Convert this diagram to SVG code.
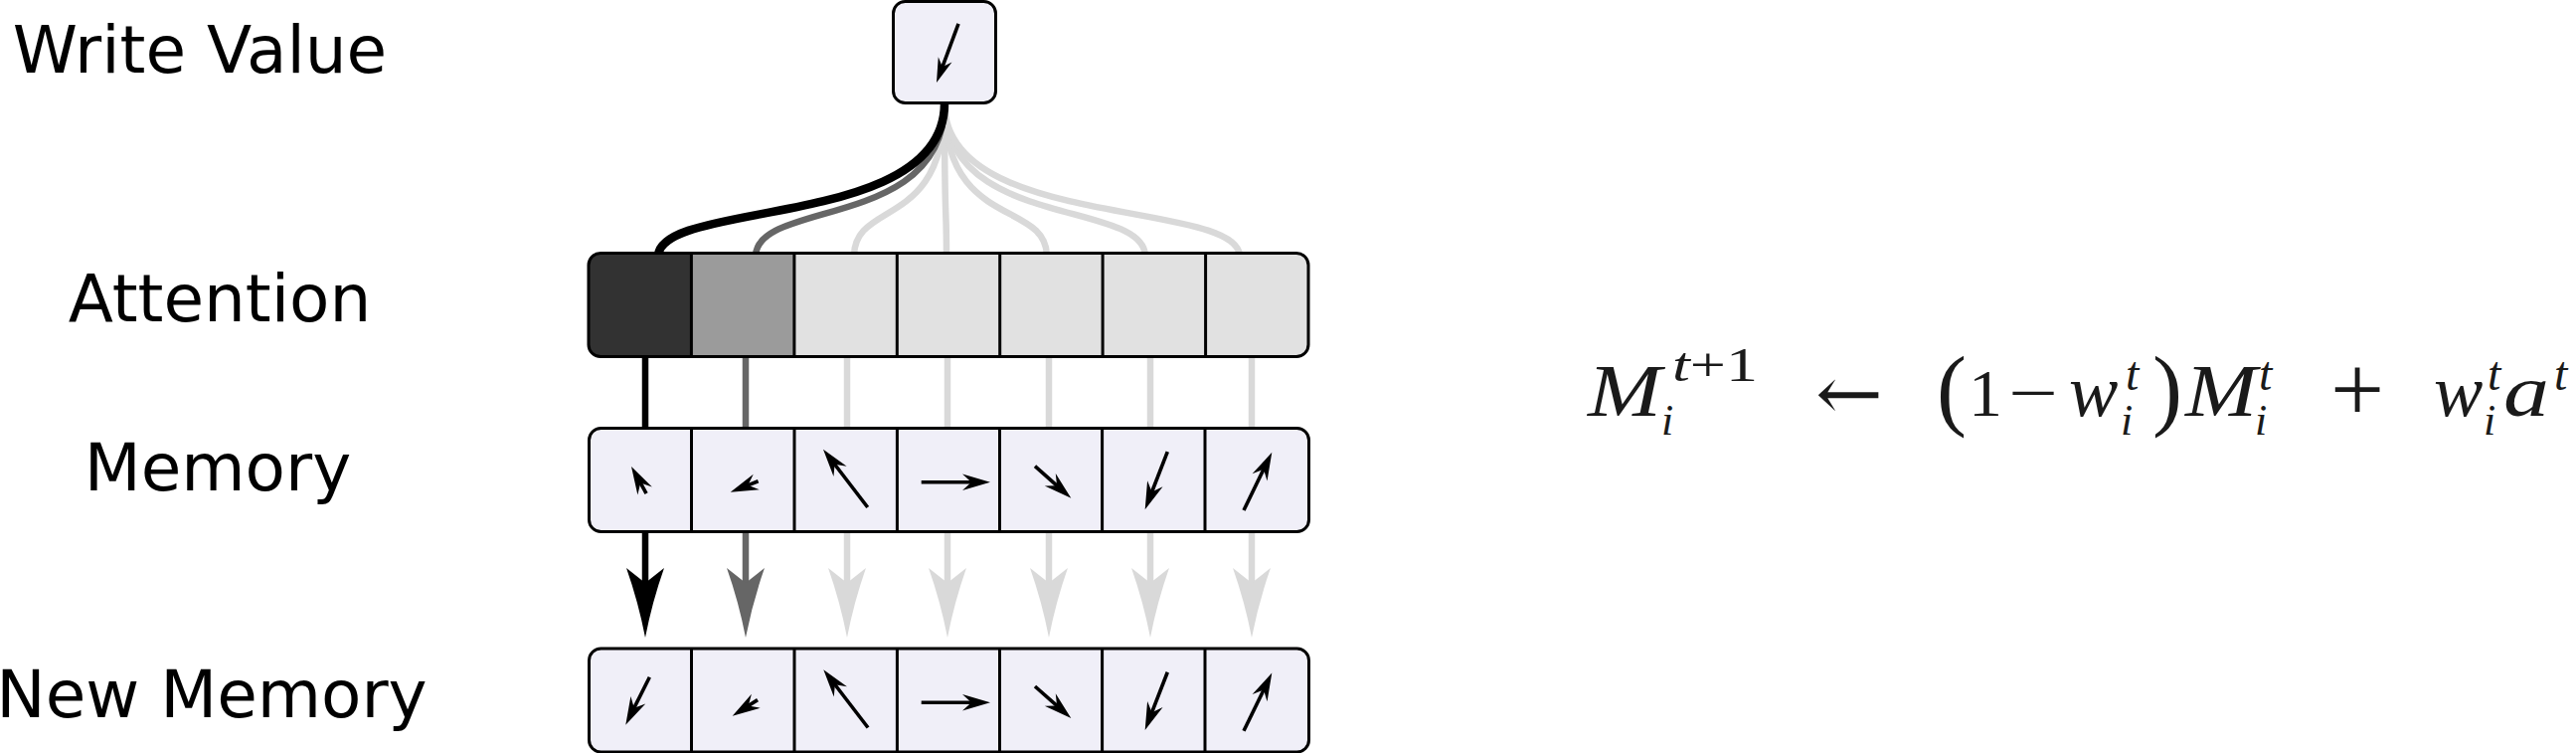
<svg xmlns="http://www.w3.org/2000/svg" xmlns:xlink="http://www.w3.org/1999/xlink" width="2591" height="757" viewBox="0 0 2591 757">
<style>
.lbl{font-family:"DejaVu Sans",sans-serif;font-size:66px;fill:#000;text-anchor:middle}
.box{stroke:#000;stroke-width:3}
.dv{stroke:#000;stroke-width:3}
.sh{stroke:#000;stroke-width:3.6;fill:none}
.cv{fill:none;stroke-width:6.5}
.k{stroke:#000}.g{stroke:#666}.l{stroke:#d9d9d9}
.kf{fill:#000}.gf{fill:#666}.lf{fill:#d9d9d9}
.eq{font-family:"Liberation Serif","DejaVu Serif",serif;fill:#1a1a1a}
.op{font-family:"DejaVu Serif","Liberation Serif",serif;fill:#1a1a1a}
.it{font-style:italic}
.mem{fill:#f0eff8}
</style>
<defs>
<clipPath id="attclip"><rect x="592" y="254.5" width="724" height="104" rx="12"/></clipPath>
<path id="hd" d="M0,0 L-28,-8.3 L-19,0 L-28,8.3 Z"/>
<path id="bh" d="M0,0 Q-7,-36 -19,-70 L0,-55 L19,-70 Q7,-36 0,0 Z"/>
</defs>

<g id="labels">
<text class="lbl" x="201" y="73">Write Value</text>
<text class="lbl" x="221" y="323">Attention</text>
<text class="lbl" x="219" y="493">Memory</text>
<text class="lbl" x="213" y="721">New Memory</text>
</g>

<g id="connectors">
<path class="cv l" d="M950,104 C950,232 859,200 859,258"/>
<path class="cv l" d="M950,104 C950,232 952,200 952,258"/>
<path class="cv l" d="M950,104 C950,232 1053,200 1053,258"/>
<path class="cv l" d="M950,104 C950,232 1152,200 1152,258"/>
<path class="cv l" d="M950,104 C950,232 1247,200 1247,258"/>
<path class="cv g" d="M950,104 C950,232 760,200 760,258"/>
<path class="cv k" style="stroke-width:8.5" d="M950,104 C950,232 662,200 662,258"/>
<g stroke-width="6.5">
<line class="k" x1="649" y1="356" x2="649" y2="590"/>
<line class="g" x1="750" y1="356" x2="750" y2="590"/>
<line class="l" x1="852" y1="356" x2="852" y2="590"/>
<line class="l" x1="953" y1="356" x2="953" y2="590"/>
<line class="l" x1="1055" y1="356" x2="1055" y2="590"/>
<line class="l" x1="1157" y1="356" x2="1157" y2="590"/>
<line class="l" x1="1259" y1="356" x2="1259" y2="590"/>
</g>
<use href="#bh" class="kf" transform="translate(649,641)"/>
<use href="#bh" class="gf" transform="translate(750,641)"/>
<use href="#bh" class="lf" transform="translate(852,641)"/>
<use href="#bh" class="lf" transform="translate(953,641)"/>
<use href="#bh" class="lf" transform="translate(1055,641)"/>
<use href="#bh" class="lf" transform="translate(1157,641)"/>
<use href="#bh" class="lf" transform="translate(1259,641)"/>
</g>

<g id="write-value">
<rect class="box mem" x="898.5" y="1.5" width="103" height="102" rx="12"/>
<g transform="translate(942,83) rotate(110.45)"><line class="sh" x1="-63" y1="0" x2="-16" y2="0"/><use href="#hd" transform="scale(0.88)"/></g>
</g>

<g id="attention">
<g clip-path="url(#attclip)">
<rect x="592" y="254.5" width="724" height="104" fill="#e1e1e1"/>
<rect x="592" y="254.5" width="103.4" height="104" fill="#323232"/>
<rect x="695.4" y="254.5" width="103.4" height="104" fill="#9b9b9b"/>
</g>
<g class="dv">
<line x1="695.4" y1="254.5" x2="695.4" y2="358.5"/>
<line x1="798.9" y1="254.5" x2="798.9" y2="358.5"/>
<line x1="902.3" y1="254.5" x2="902.3" y2="358.5"/>
<line x1="1005.7" y1="254.5" x2="1005.7" y2="358.5"/>
<line x1="1109.1" y1="254.5" x2="1109.1" y2="358.5"/>
<line x1="1212.6" y1="254.5" x2="1212.6" y2="358.5"/>
</g>
<rect class="box" fill="none" x="592" y="254.5" width="724" height="104" rx="12"/>
</g>

<g id="memory">
<rect class="box mem" x="592.5" y="430.5" width="724" height="104" rx="12"/>
<g class="dv">
<line x1="695.5" y1="430.5" x2="695.5" y2="534.5"/>
<line x1="799" y1="430.5" x2="799" y2="534.5"/>
<line x1="902.4" y1="430.5" x2="902.4" y2="534.5"/>
<line x1="1005.5" y1="430.5" x2="1005.5" y2="534.5"/>
<line x1="1108.6" y1="430.5" x2="1108.6" y2="534.5"/>
<line x1="1212" y1="430.5" x2="1212" y2="534.5"/>
</g>
<g transform="translate(635,469) rotate(-119.1)"><line class="sh" x1="-31" y1="0" x2="-18" y2="0"/><use href="#hd"/></g>
<g transform="translate(734.7,494.7) rotate(158.5)"><line class="sh" x1="-30" y1="0" x2="-18" y2="0"/><use href="#hd"/></g>
<g transform="translate(828,451.7) rotate(-127.5)"><line class="sh" x1="-73.5" y1="0" x2="-18" y2="0"/><use href="#hd"/></g>
<g transform="translate(996,484.7) rotate(0)"><line class="sh" x1="-69.3" y1="0" x2="-18" y2="0"/><use href="#hd"/></g>
<g transform="translate(1077.3,500.7) rotate(41.4)"><line class="sh" x1="-48.4" y1="0" x2="-18" y2="0"/><use href="#hd"/></g>
<g transform="translate(1151.7,512.3) rotate(111.2)"><line class="sh" x1="-62.5" y1="0" x2="-18" y2="0"/><use href="#hd"/></g>
<g transform="translate(1279.3,454.7) rotate(-64.1)"><line class="sh" x1="-64.8" y1="0" x2="-18" y2="0"/><use href="#hd"/></g>
</g>

<g id="new-memory">
<rect class="box mem" x="592.5" y="652" width="724" height="104" rx="12"/>
<g class="dv">
<line x1="695.5" y1="652" x2="695.5" y2="756"/>
<line x1="799" y1="652" x2="799" y2="756"/>
<line x1="902.4" y1="652" x2="902.4" y2="756"/>
<line x1="1005.5" y1="652" x2="1005.5" y2="756"/>
<line x1="1108.6" y1="652" x2="1108.6" y2="756"/>
<line x1="1212" y1="652" x2="1212" y2="756"/>
</g>
<g transform="translate(629.3,728.7) rotate(116.6)"><line class="sh" x1="-53.7" y1="0" x2="-18" y2="0"/><use href="#hd"/></g>
<g transform="translate(736.7,719.7) rotate(147.6)"><line class="sh" x1="-30" y1="0" x2="-18" y2="0"/><use href="#hd"/></g>
<g transform="translate(828.3,673.2) rotate(-127.5)"><line class="sh" x1="-73.5" y1="0" x2="-18" y2="0"/><use href="#hd"/></g>
<g transform="translate(996,706.3) rotate(0)"><line class="sh" x1="-69.3" y1="0" x2="-18" y2="0"/><use href="#hd"/></g>
<g transform="translate(1077.3,722) rotate(41.4)"><line class="sh" x1="-48.4" y1="0" x2="-18" y2="0"/><use href="#hd"/></g>
<g transform="translate(1151.7,734) rotate(111.2)"><line class="sh" x1="-62.5" y1="0" x2="-18" y2="0"/><use href="#hd"/></g>
<g transform="translate(1279.3,676.5) rotate(-64.1)"><line class="sh" x1="-64.8" y1="0" x2="-18" y2="0"/><use href="#hd"/></g>
</g>

<g id="equation" class="eq">
<text class="it" x="1597" y="418" font-size="74" textLength="74" lengthAdjust="spacingAndGlyphs">M</text>
<text class="it" x="1671" y="437" font-size="44">i</text>
<text x="1682" y="383" font-size="48" textLength="86" lengthAdjust="spacingAndGlyphs"><tspan class="it">t</tspan>+1</text>
<text class="op" x="1826" y="422" font-size="76" textLength="68" lengthAdjust="spacingAndGlyphs">←</text>
<text x="1948" y="421" font-size="90">(</text>
<text x="1980" y="418" font-size="68">1</text>
<text x="2020" y="418" font-size="68" textLength="50" lengthAdjust="spacingAndGlyphs">−</text>
<text class="it" x="2081" y="418" font-size="74">w</text>
<text class="it" x="2133" y="437" font-size="44">i</text>
<text class="it" x="2138" y="392" font-size="48">t</text>
<text x="2165" y="421" font-size="90">)</text>
<text class="it" x="2198" y="418" font-size="74" textLength="72" lengthAdjust="spacingAndGlyphs">M</text>
<text class="it" x="2268" y="437" font-size="44">i</text>
<text class="it" x="2272" y="392" font-size="48">t</text>
<text x="2344" y="423" font-size="96">+</text>
<text class="it" x="2448" y="418" font-size="74">w</text>
<text class="it" x="2498" y="437" font-size="44">i</text>
<text class="it" x="2502" y="392" font-size="48">t</text>
<text class="it" x="2518" y="418" font-size="74" textLength="46" lengthAdjust="spacingAndGlyphs">a</text>
<text class="it" x="2569" y="392" font-size="48">t</text>
</g>
</svg>
